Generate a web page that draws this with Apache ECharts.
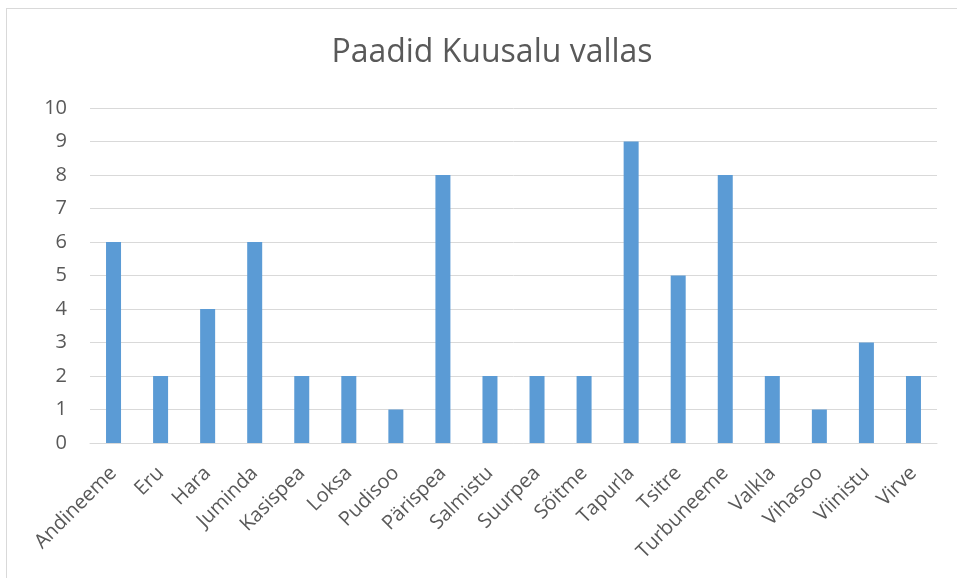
<!DOCTYPE html>
<html>
<head>
<meta charset="utf-8">
<script src="https://cdn.jsdelivr.net/npm/echarts@6/dist/echarts.min.js"></script>
<style>
  html, body { margin: 0; padding: 0; background: #fff; }
  #frame { position: absolute; left: 6px; top: 8px; width: 960px; height: 580px; border: 1px solid #d9d9d9; box-sizing: border-box; }
  #chart { position: absolute; left: 0; top: 0; width: 957px; height: 578px; }
</style>
</head>
<body>
<div id="frame"></div>
<div id="chart"></div>
<script>
// Boats per village in Kuusalu parish
const villages = ['Andineeme', 'Eru', 'Hara', 'Juminda', 'Kasispea', 'Loksa', 'Pudisoo', 'Pärispea', 'Salmistu',
  'Suurpea', 'Sõitme', 'Tapurla', 'Tsitre', 'Turbuneeme', 'Valkla', 'Vihasoo', 'Viinistu', 'Virve'];
const boats = [6, 2, 4, 6, 2, 2, 1, 8, 2, 2, 2, 9, 5, 8, 2, 1, 3, 2];
const yTicks = [0, 1, 2, 3, 4, 5, 6, 7, 8, 9, 10];

const FONT = '"Open Sans", "DejaVu Sans", sans-serif';
const chart = echarts.init(document.getElementById('chart'), null, { renderer: 'canvas' });
chart.setOption({
  animation: false,
  backgroundColor: 'transparent',
  title: {
    text: 'Paadid Kuusalu vallas',
    left: 487,
    top: 32,
    textAlign: 'center',
    textStyle: { fontFamily: FONT, fontSize: 32, fontWeight: 'normal', color: '#595959' }
  },
  grid: { left: 90, right: 20, top: 108, bottom: 135, containLabel: false },
  xAxis: {
    type: 'category',
    data: villages,
    axisLine: { lineStyle: { color: '#d9d9d9', width: 1 } },
    axisTick: { show: false },
    axisLabel: {
      interval: 0,
      rotate: 45,
      margin: 27,
      fontFamily: FONT,
      fontSize: 20,
      color: '#595959'
    }
  },
  yAxis: {
    type: 'value',
    min: yTicks[0],
    max: yTicks[yTicks.length - 1],
    interval: 1,
    axisLine: { show: false },
    axisTick: { show: false },
    splitLine: { lineStyle: { color: '#d9d9d9', width: 1 } },
    axisLabel: { margin: 23, fontFamily: FONT, fontSize: 20, color: '#595959' }
  },
  series: [{
    type: 'bar',
    data: boats,
    barWidth: 15,
    itemStyle: { color: '#5b9bd5' }
  }]
});
</script>
</body>
</html>
